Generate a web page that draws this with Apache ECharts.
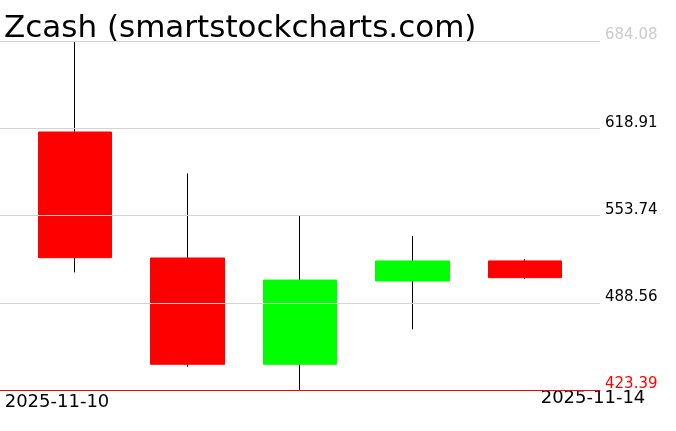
<!DOCTYPE html>
<html><head><meta charset="utf-8">
<script src="https://cdn.jsdelivr.net/npm/echarts@6/dist/echarts.min.js"></script>
<style>html,body{margin:0;padding:0;background:#fff}#c{width:676px;height:431px}</style>
</head><body><div id="c"></div>
<script>
const titleText = 'Zcash (smartstockcharts.com)';
const categories = ['2025-11-10', '2025-11-11', '2025-11-12', '2025-11-13', '2025-11-14'];
const openValues  = [616.1, 522.0, 442.6, 504.8, 519.8];
const closeValues = [522.2, 442.6, 505.5, 519.8, 507.3];
const lowValues   = [511.3, 440.8, 423.39, 468.7, 506.5];
const highValues  = [684.08, 585.2, 553.4, 538.4, 521.2];
const yTickValues = [423.39, 488.56, 553.74, 618.91, 684.08];

const wickData = categories.map((c, i) => [i, openValues[i], closeValues[i], lowValues[i], highValues[i]]);
const bodyData = categories.map((c, i) => [i, openValues[i], closeValues[i],
  Math.min(openValues[i], closeValues[i]), Math.max(openValues[i], closeValues[i])]);

const FONT = 'DejaVu Sans';
const chart = echarts.init(document.getElementById('c'), null, {renderer: 'canvas'});
chart.setOption({
  animation: false,
  backgroundColor: '#ffffff',
  title: {
    text: titleText, left: 4, top: 13, padding: 0,
    textStyle: {fontFamily: FONT, fontSize: 31, fontWeight: 'normal', color: '#000'}
  },
  grid: [
    {left: 0, right: 76, top: 41, bottom: 41},
    {left: 57, right: 83, top: 41, bottom: 41}
  ],
  xAxis: [
    {
      gridIndex: 0, type: 'value', min: -2/3, max: 14/3, z: 4,
      axisLine: {show: true, onZero: false, lineStyle: {color: '#ff0000', width: 1}},
      axisTick: {show: false}, axisLabel: {show: false}, splitLine: {show: false}
    },
    {
      gridIndex: 1, type: 'category', data: categories, boundaryGap: false,
      axisLine: {show: false}, axisTick: {show: false}, splitLine: {show: false},
      axisLabel: {
        show: true, margin: -1, interval: 0,
        formatter: (v, i) => i === 0 ? '{a|' + v + '}' : (i === categories.length - 1 ? '{b|' + v + '}' : ''),
        rich: {
          a: {fontFamily: FONT, fontSize: 18, color: '#000', padding: [4, 0, 0, 0]},
          b: {fontFamily: FONT, fontSize: 18, color: '#000'}
        }
      }
    }
  ],
  yAxis: [
    {
      gridIndex: 0, type: 'value', position: 'right', min: 423.39, max: 684.08, z: 3,
      axisLine: {show: false},
      axisTick: {show: false, customValues: yTickValues},
      splitLine: {show: true, lineStyle: {color: '#d3d3d3', width: 1}},
      axisLabel: {
        customValues: yTickValues, margin: 5,
        fontFamily: FONT, fontSize: 15, lineHeight: 11,
        verticalAlign: 'bottom',
        formatter: v => v.toFixed(2),
        color: (v) => {
          const s = Number(v).toFixed(2);
          if (s === yTickValues[0].toFixed(2)) return '#ff0000';
          if (s === yTickValues[yTickValues.length - 1].toFixed(2)) return '#cccccc';
          return '#000000';
        }
      }
    },
    {gridIndex: 1, type: 'value', show: false}
  ],
  series: [
    {
      name: 'wick', type: 'candlestick', xAxisIndex: 0, yAxisIndex: 0, z: 1,
      barWidth: 1, encode: {x: 0, y: [1, 2, 3, 4]}, data: wickData,
      itemStyle: {color: '#000', color0: '#000', borderColor: '#000', borderColor0: '#000', borderWidth: 1}
    },
    {
      name: 'body', type: 'candlestick', xAxisIndex: 0, yAxisIndex: 0, z: 2,
      barWidth: 74, encode: {x: 0, y: [1, 2, 3, 4]}, data: bodyData,
      itemStyle: {color: '#00ff00', color0: '#ff0000', borderColor: '#00ff00', borderColor0: '#ff0000', borderWidth: 1}
    }
  ]
});
</script>
</body></html>
